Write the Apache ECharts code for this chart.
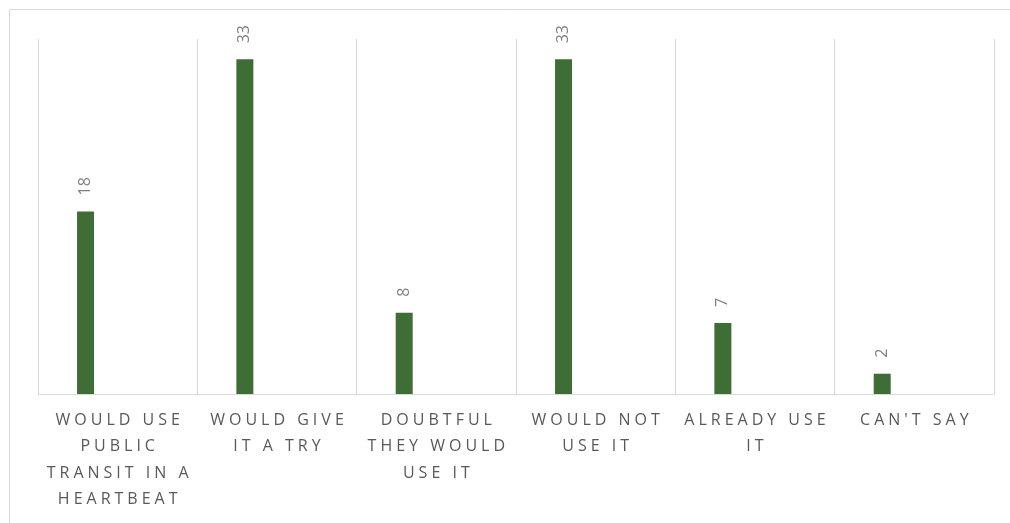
<!DOCTYPE html>
<html>
<head>
<meta charset="utf-8">
<script src="https://cdn.jsdelivr.net/npm/echarts@6/dist/echarts.min.js"></script>
<style>
  html, body { margin: 0; padding: 0; background: #ffffff; }
  #chart { width: 1010px; height: 523px; }
</style>
</head>
<body>
<div id="chart"></div>
<script>
// Survey responses: how people would react to the service
const categories = [
  "WOULD USE PUBLIC TRANSIT IN A HEARTBEAT",
  "WOULD GIVE IT A TRY",
  "DOUBTFUL THEY WOULD USE IT",
  "WOULD NOT USE IT",
  "ALREADY USE IT",
  "CAN'T SAY"
];
const responses = [18, 33, 8, 33, 7, 2];
// second (empty) series slot kept from the original workbook layout
const emptySlot = [null, null, null, null, null, null];

const SPACER = "\u2005"; // widened tracking between letters
const MAX_LINE_CHARS = 12;

function wrapWords(text) {
  const words = text.split(" ");
  const lines = [];
  let cur = "";
  words.forEach(w => {
    const next = cur ? cur + " " + w : w;
    if (next.length > MAX_LINE_CHARS && cur) {
      lines.push(cur);
      cur = w;
    } else {
      cur = next;
    }
  });
  if (cur) lines.push(cur);
  return lines;
}

function track(line) {
  return line.split("").join(SPACER);
}

const chart = echarts.init(document.getElementById("chart"), null, { renderer: "canvas" });

chart.setOption({
  animation: false,
  backgroundColor: "#ffffff",
  graphic: [{
    type: "rect",
    shape: { x: 9.5, y: 9.5, width: 1100, height: 600 },
    style: { fill: "none", stroke: "#d9d9d9", lineWidth: 1 },
    silent: true,
    z: -1
  }],
  grid: { left: 38, right: 16, top: 39, bottom: 129, containLabel: false },
  xAxis: {
    type: "category",
    data: categories,
    axisTick: { show: false },
    axisLine: { lineStyle: { color: "#d9d9d9", width: 1 } },
    splitLine: { show: true, lineStyle: { color: "#d9d9d9", width: 1 } },
    axisLabel: {
      interval: 0,
      margin: 13,
      color: "#595959",
      fontFamily: "Open Sans",
      fontSize: 16,
      lineHeight: 26.5,
      formatter: v => wrapWords(v).map(track).join("\n")
    }
  },
  yAxis: {
    type: "value",
    min: 0,
    max: 35,
    interval: 5,
    show: false,
    splitLine: { show: false }
  },
  series: [
    {
      name: "Responses",
      type: "bar",
      data: responses,
      barWidth: 17,
      barGap: "278%",
      itemStyle: { color: "#3e6e35" },
      label: {
        show: true,
        position: "top",
        rotate: 90,
        align: "left",
        verticalAlign: "middle",
        distance: 16,
        color: "#7f7f7f",
        fontFamily: "Open Sans",
        fontSize: 16
      }
    },
    {
      name: "Other",
      type: "bar",
      data: emptySlot,
      barWidth: 17,
      itemStyle: { color: "#a5a5a5" }
    }
  ]
});
</script>
</body>
</html>
